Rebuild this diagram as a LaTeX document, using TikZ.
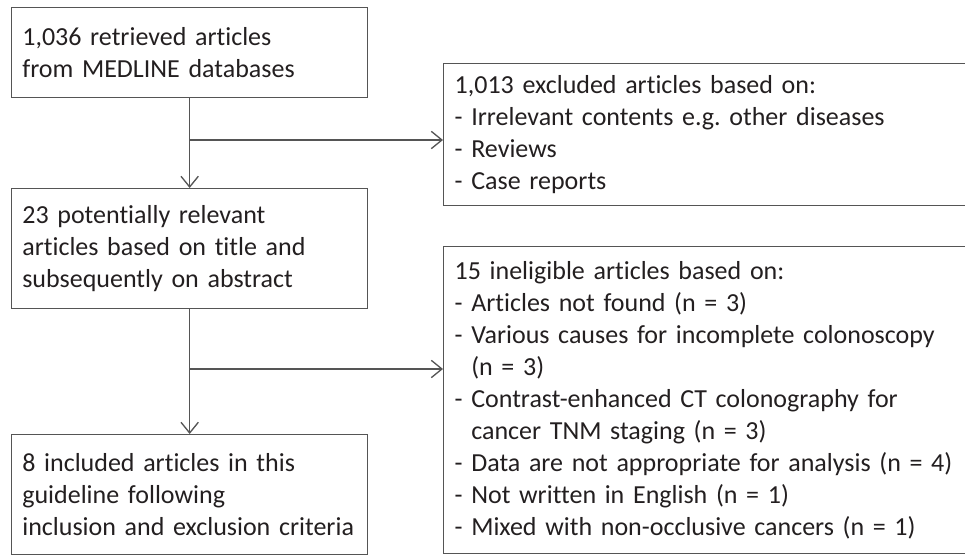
\documentclass[tikz,border=0pt]{standalone}
\usepackage{fontspec}
\setmainfont{Carlito}[Ligatures=NoCommon]
\usetikzlibrary{arrows.meta}
\definecolor{linegray}{HTML}{555555}
\definecolor{textgray}{HTML}{231F20}
\frenchspacing
\hyphenpenalty=10000
\begin{document}
\begin{tikzpicture}[x=0.75pt,y=-0.75pt,
  box/.style={draw=linegray, line width=1pt, anchor=north west, align=left,
    inner xsep=7.5pt, inner ysep=0pt, text=textgray,
    font=\fontsize{19.5}{24}\selectfont},
  leftbox/.style={box, minimum width=267pt, text width=251pt},
  rightbox/.style={box, minimum width=397.5pt, text width=381pt},
  flow/.style={draw=linegray, line width=1pt,
    -{Straight Barb[length=8pt,width=13pt,line width=1pt]}}]
\useasboundingbox (0,0) rectangle (965,556);

% main column
\node[leftbox, minimum height=67.5pt] (retrieved) at (11,7)
  {1,036 retrieved articles\\from MEDLINE databases};
\node[leftbox, minimum height=90pt] (relevant) at (11,188)
  {23 potentially relevant\\articles based on title and\\subsequently on abstract};
\node[leftbox, minimum height=90pt] (included) at (11,434)
  {8 included articles in this\\guideline following\\inclusion and exclusion criteria};

% exclusion boxes
\node[rightbox, minimum height=106.5pt] (excluded) at (443,63)
  {1,013 excluded articles based on:\\- Irrelevant contents e.g. other diseases\\- Reviews\\- Case reports};
\node[rightbox, minimum height=230.25pt] (ineligible) at (443,246)
  {15 ineligible articles based on:\\
   - Articles not found (n = 3)\\
   - Various causes for incomplete colonoscopy\\
   \phantom{-\ }(n = 3)\\
   - Contrast-enhanced CT colonography for\\
   \phantom{-\ }cancer TNM staging (n = 3)\\
   - Data are not appropriate for analysis (n = 4)\\
   - Not written in English (n = 1)\\
   - Mixed with non-occlusive cancers (n = 1)};

% connectors
\coordinate (split1) at (189,140);
\coordinate (split2) at (189,369);
\draw[flow] (retrieved.south) -- (relevant.north);
\draw[flow] (relevant.south) -- (included.north);
\draw[flow] (split1) -- (split1 -| excluded.west);
\draw[flow] (split2) -- (split2 -| ineligible.west);
\end{tikzpicture}
\end{document}
